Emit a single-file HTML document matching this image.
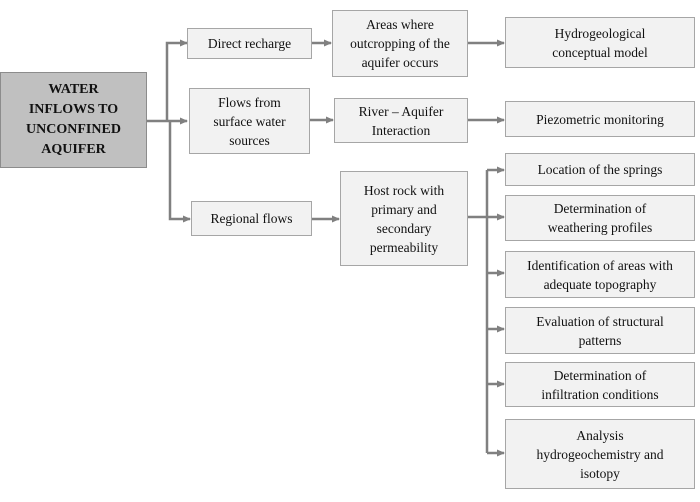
<!DOCTYPE html>
<html><head><style>
body{margin:0;width:700px;height:502px;background:#fff;position:relative;overflow:hidden;font-family:"Liberation Serif",serif;}
.b{position:absolute;box-sizing:border-box;background:#f2f2f2;border:1.5px solid #a6a6a6;display:flex;align-items:center;justify-content:center;text-align:center;font-size:13.5px;line-height:19px;color:#111;}
svg{position:absolute;left:0;top:0;}
</style></head><body>
<svg width="700" height="502">
<defs><marker id="a" markerWidth="8" markerHeight="8" refX="7" refY="4" orient="auto" markerUnits="userSpaceOnUse"><path d="M0,0.5 L8,4 L0,7.5z" fill="#808080"/></marker></defs>
<g stroke="#808080" stroke-width="2.5" fill="none">
<path d="M147,121 H187" marker-end="url(#a)"/>
<path d="M167,121 V43 H187" marker-end="url(#a)"/>
<path d="M170,121 V219 H190" marker-end="url(#a)"/>
<path d="M312,43 H331" marker-end="url(#a)"/>
<path d="M310,120 H333" marker-end="url(#a)"/>
<path d="M312,219 H339" marker-end="url(#a)"/>
<path d="M468,43 H504" marker-end="url(#a)"/>
<path d="M468,120 H504" marker-end="url(#a)"/>
<path d="M468,217 H504" marker-end="url(#a)"/>
<path d="M487,170 V453"/>
<path d="M487,170 H504" marker-end="url(#a)"/>
<path d="M487,273 H504" marker-end="url(#a)"/>
<path d="M487,329 H504" marker-end="url(#a)"/>
<path d="M487,384 H504" marker-end="url(#a)"/>
<path d="M487,453 H504" marker-end="url(#a)"/>
</g></svg>
<div class="b" style="left:0;top:72px;width:147px;height:96px;background:#c0c0c0;border-color:#8c8c8c;font-weight:bold;font-size:14px;line-height:20px;">WATER<br>INFLOWS TO<br>UNCONFINED<br>AQUIFER</div>
<div class="b" style="left:187px;top:28px;width:125px;height:31px;">Direct recharge</div>
<div class="b" style="left:189px;top:88px;width:121px;height:66px;">Flows from<br>surface water<br>sources</div>
<div class="b" style="left:191px;top:201px;width:121px;height:35px;">Regional flows</div>
<div class="b" style="left:332px;top:10px;width:136px;height:67px;">Areas where<br>outcropping of the<br>aquifer occurs</div>
<div class="b" style="left:334px;top:98px;width:134px;height:45px;">River – Aquifer<br>Interaction</div>
<div class="b" style="left:340px;top:171px;width:128px;height:95px;">Host rock with<br>primary and<br>secondary<br>permeability</div>
<div class="b" style="left:505px;top:17px;width:190px;height:51px;">Hydrogeological<br>conceptual model</div>
<div class="b" style="left:505px;top:101px;width:190px;height:36px;">Piezometric monitoring</div>
<div class="b" style="left:505px;top:153px;width:190px;height:33px;">Location of the springs</div>
<div class="b" style="left:505px;top:195px;width:190px;height:46px;">Determination of<br>weathering profiles</div>
<div class="b" style="left:505px;top:251px;width:190px;height:47px;">Identification of areas with<br>adequate topography</div>
<div class="b" style="left:505px;top:307px;width:190px;height:47px;">Evaluation of structural<br>patterns</div>
<div class="b" style="left:505px;top:362px;width:190px;height:45px;">Determination of<br>infiltration conditions</div>
<div class="b" style="left:505px;top:419px;width:190px;height:70px;">Analysis<br>hydrogeochemistry and<br>isotopy</div>
</body></html>
